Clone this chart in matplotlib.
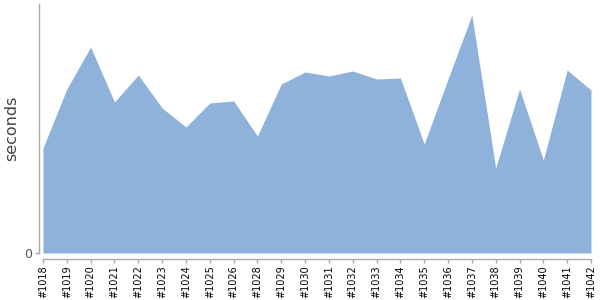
import matplotlib
matplotlib.use("Agg")
import matplotlib.pyplot as plt

builds = ["#1018", "#1019", "#1020", "#1021", "#1022", "#1023", "#1024", "#1025",
          "#1026", "#1028", "#1029", "#1030", "#1031", "#1032", "#1033", "#1034",
          "#1035", "#1036", "#1037", "#1038", "#1039", "#1040", "#1041", "#1042"]
seconds = [105, 164, 206, 151, 178, 145, 126, 150,
           152, 117, 169, 181, 177, 182, 174, 175,
           109, 174, 238, 85, 164, 93, 183, 163]

fig = plt.figure(figsize=(6, 3), dpi=100)
ax = fig.add_axes([43/600, 1 - 253/300, (591 - 43)/600, (253 - 4)/300])
x = list(range(len(builds)))
ax.fill_between(x, seconds, 0, color="#8fb2db", linewidth=0)
ax.set_xlim(0, len(builds) - 1)
ax.set_ylim(0, 249)
for s in ["top", "right"]:
    ax.spines[s].set_visible(False)
ax.spines["left"].set_position(("outward", 3))
ax.spines["bottom"].set_position(("outward", 4))
for s in ["left", "bottom"]:
    ax.spines[s].set_color("#aaaaaa")
    ax.spines[s].set_linewidth(1)
ax.tick_params(axis="both", color="#aaaaaa", length=3, width=1, pad=2)
ax.set_xticks(x)
ax.set_xticklabels(builds, fontsize=7, color="black", rotation=90, va="top", ha="center")
ax.set_yticks([0])
ax.set_yticklabels(["0"], fontsize=9, color="#555555")
ax.set_ylabel("seconds", fontsize=11.5, color="#444444")
ax.yaxis.set_label_coords(-0.043, 0.5)
fig.savefig("out.png", dpi=100)
